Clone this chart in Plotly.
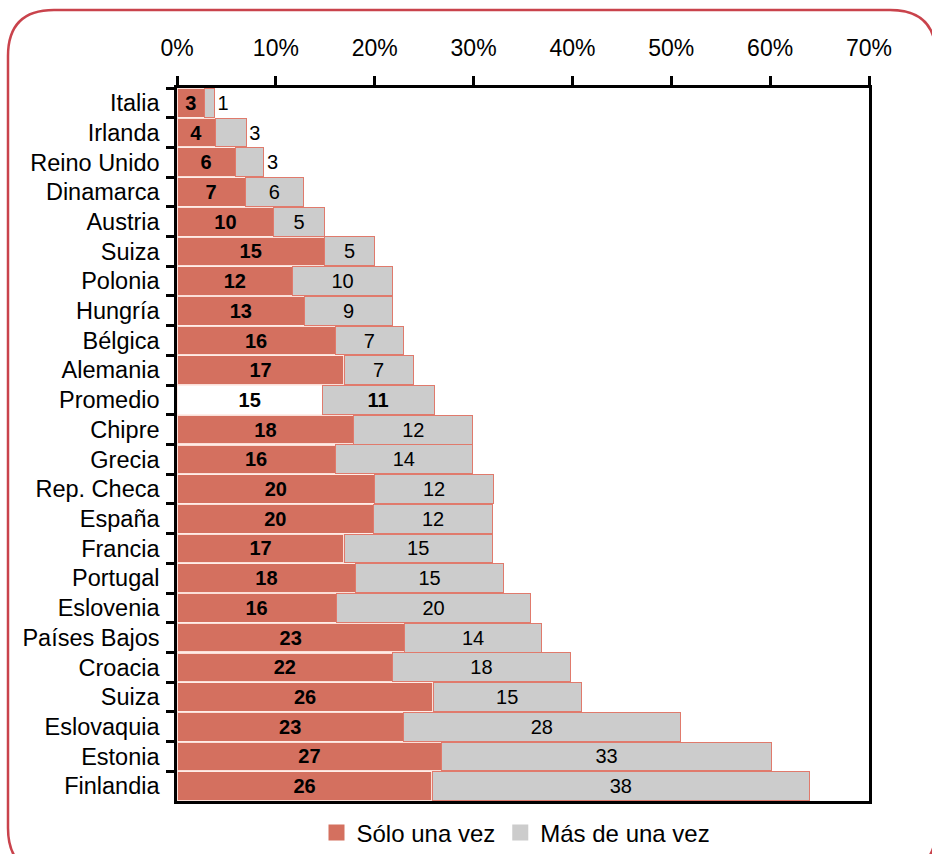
import plotly.graph_objects as go

countries = ["Italia", "Irlanda", "Reino Unido", "Dinamarca", "Austria", "Suiza",
             "Polonia", "Hungría", "Bélgica", "Alemania", "Promedio", "Chipre",
             "Grecia", "Rep. Checa", "España", "Francia", "Portugal", "Eslovenia",
             "Países Bajos", "Croacia", "Suiza", "Eslovaquia", "Estonia", "Finlandia"]
solo_una_vez = [2.8, 3.9, 5.9, 6.9, 9.8, 14.9, 11.7, 12.9, 16.0, 16.9, 14.7, 17.9,
                16.0, 20.0, 19.9, 16.9, 18.1, 16.1, 23.0, 21.8, 25.9, 22.9, 26.8, 25.8]
mas_de_una_vez = [1.0, 3.1, 2.9, 5.9, 5.1, 5.1, 10.1, 8.9, 6.9, 7.0, 11.3, 12.0,
                  13.9, 12.0, 12.0, 15.0, 14.9, 19.7, 13.9, 18.0, 15.0, 28.0, 33.3, 38.2]
x_ticks = [0, 10, 20, 30, 40, 50, 60, 70]

RED = "#D4705F"
GRAY = "#CCCCCC"
FONT = "Liberation Sans, Arial, sans-serif"

# unique category keys (second "Suiza" gets an invisible zero-width space)
keys = []
seen = set()
for c in countries:
    k = c
    while k in seen:
        k += "\u200b"
    seen.add(k)
    keys.append(k)

avg = countries.index("Promedio")
red_colors = ["white" if i == avg else RED for i in range(len(keys))]
red_text = ["<b>%d</b>" % round(v) for v in solo_una_vez]
gray_text = [("<b>%d</b>" if i == avg else "%d") % round(v) for i, v in enumerate(mas_de_una_vez)]
gray_pos = ["outside" if i < 3 else "inside" for i in range(len(keys))]

fig = go.Figure()
fig.add_trace(go.Bar(
    y=keys, x=solo_una_vez, orientation="h", name="Sólo una vez", showlegend=False,
    marker=dict(color=red_colors, line=dict(color="rgba(255,235,230,0.9)", width=1.2)),
    text=red_text, textposition="inside", insidetextanchor="middle", textangle=0,
    constraintext="none", textfont=dict(family=FONT, size=20, color="black"),
    hoverinfo="x+y",
))
fig.add_trace(go.Bar(
    y=keys, x=mas_de_una_vez, orientation="h", name="Más de una vez", showlegend=False,
    marker=dict(color=GRAY, line=dict(color="#E07A6C", width=1)),
    text=gray_text, textposition=gray_pos, insidetextanchor="middle", textangle=0,
    constraintext="none", textfont=dict(family=FONT, size=20, color="black"),
    cliponaxis=False, hoverinfo="x+y",
))
# legend entries with larger square swatches
for name, col in [("Sólo una vez", RED), ("Más de una vez", GRAY)]:
    fig.add_trace(go.Scatter(x=[None], y=[None], mode="markers", name=name,
                             marker=dict(symbol="square", size=16, color=col),
                             showlegend=True, hoverinfo="skip"))

W, H = 932, 854
L, R, T, B = 177, 63, 88, 53
pw, ph = W - L - R, H - T - B


def px(x):
    return (x - L) / pw


def py(y):
    return (H - B - y) / ph


# rounded frame
x0, x1, y0, y1, r = 8, 936, 10, 874, 46
path = (f"M {px(x0)},{py(y0 + r)} Q {px(x0)},{py(y0)} {px(x0 + r)},{py(y0)} "
        f"L {px(x1 - r)},{py(y0)} Q {px(x1)},{py(y0)} {px(x1)},{py(y0 + r)} "
        f"L {px(x1)},{py(y1 - r)} Q {px(x1)},{py(y1)} {px(x1 - r)},{py(y1)} "
        f"L {px(x0 + r)},{py(y1)} Q {px(x0)},{py(y1)} {px(x0)},{py(y1 - r)} Z")

fig.update_layout(
    width=W, height=H,
    margin=dict(l=L, r=R, t=T, b=B, pad=0, autoexpand=False),
    barmode="stack", bargap=0.03,
    plot_bgcolor="white", paper_bgcolor="white",
    font=dict(family=FONT, size=22, color="black"),
    showlegend=True,
    legend=dict(orientation="h", x=px(516), xanchor="center",
                yref="container", y=(H - 833) / H, yanchor="middle",
                font=dict(family=FONT, size=24, color="black"), traceorder="normal",
                itemwidth=30, tracegroupgap=0, bgcolor="rgba(0,0,0,0)"),
    shapes=[dict(type="path", xref="paper", yref="paper", path=path,
                 line=dict(color="#C9434C", width=2.5), layer="above")],
    xaxis=dict(side="top", range=[0, 70], tickvals=x_ticks,
               ticktext=["%d%%" % v for v in x_ticks],
               ticks="outside", ticklen=9, tickwidth=2.5, tickcolor="black",
               showline=True, linewidth=2.5, linecolor="black", mirror=True,
               showgrid=False, zeroline=False, fixedrange=True, automargin=False,
               ticklabelstandoff=11,
               tickfont=dict(family=FONT, size=23)),
    yaxis=dict(type="category", categoryorder="array", categoryarray=keys,
               autorange="reversed", tickson="boundaries",
               ticks="outside", ticklen=8, tickwidth=2.5, tickcolor="black",
               showline=True, linewidth=2.5, linecolor="black", mirror=True,
               showgrid=False, zeroline=False, fixedrange=True, automargin=False,
               ticklabelstandoff=10,
               tickfont=dict(family=FONT, size=23.5)),
)

fig.write_html("out.html", config={"displayModeBar": False},
               post_script="document.body.style.margin='0';document.body.style.overflow='hidden';")
